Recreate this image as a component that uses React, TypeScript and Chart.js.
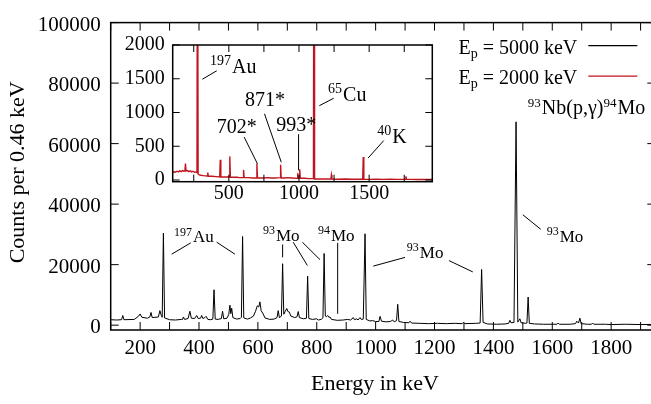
import React, { useEffect, useRef } from 'react';
import { Chart, registerables } from 'chart.js';

Chart.register(...registerables);

const FONT = '"Liberation Serif", "Times New Roman", Times, serif';

// ---- Tick values ----
const mainXTicks = [100, 200, 300, 400, 500, 600, 700, 800, 900, 1000, 1100, 1200, 1300, 1400, 1500, 1600, 1700, 1800, 1900];
const mainYTicks = [0, 20000, 40000, 60000, 80000, 100000];
const insetXTicks = [250, 500, 750, 1000, 1250, 1500, 1750];
const insetYTicks = [0, 500, 1000, 1500, 2000];

// ---- Main spectrum, Ep = 5000 keV (black) ----
const mainEnergies = [
  100, 120, 137, 141, 145, 180, 195, 200, 206, 225, 233, 237, 241, 262, 267, 272, 275, 279, 283,
  300, 320, 340, 344, 347, 351, 363, 369, 374, 385, 392, 397, 405, 409, 413, 420, 424, 430, 440, 447,
  451, 455, 465, 476, 480, 484, 495, 501, 505, 508, 511, 515, 528, 540, 544, 548, 552, 565, 575,
  585, 592, 598, 603, 607, 611, 618, 624, 640, 655, 665, 669, 673, 680, 684, 688, 692, 698, 702,
  707, 712, 725, 733, 737, 741, 755, 765, 769, 773, 785, 800, 805, 815, 821, 825, 829, 833, 837,
  841, 845, 850, 870, 890, 905, 915, 924, 928, 936, 940, 947, 951, 958, 964, 968, 980, 990, 1000,
  1011, 1015, 1020, 1035, 1050, 1058, 1063, 1071, 1075, 1079, 1095, 1113, 1117, 1122, 1150, 1180, 1210, 1240,
  1270, 1294, 1298, 1302, 1340, 1355, 1360, 1365, 1380, 1410, 1440, 1452, 1456, 1460, 1470, 1477, 1483,
  1490, 1494, 1510, 1514, 1518, 1522, 1540, 1570, 1600, 1616, 1620, 1624, 1660, 1679, 1683, 1689, 1694, 1698,
  1720, 1733, 1737, 1741, 1780, 1800, 1850, 1900, 1950,
];
const mainCounts = [
  1800, 1700, 1800, 3200, 1800, 1900, 3000, 3700, 2600, 2300, 2700, 4200, 2500, 2700, 4800, 3200, 2600, 30400, 2400,
  1800, 1700, 1900, 1900, 2700, 1900, 2200, 4600, 2300, 2200, 3200, 2200, 2300, 3200, 2200, 2500, 2900, 1900, 1800, 2000,
  11700, 2000, 1900, 2200, 4600, 2100, 2300, 3500, 6600, 3800, 5600, 2500, 2000, 2200, 2600, 29300, 2400, 2000, 2400,
  3000, 4600, 6400, 6000, 7700, 4800, 3700, 2400, 1900, 2000, 2500, 4800, 2500, 3000, 20300, 3600, 4400, 5500, 4500,
  4300, 3000, 2500, 2800, 4500, 2500, 2100, 2300, 16200, 2200, 1900, 2100, 1700, 1900, 2400, 23700, 3000, 2800, 3200,
  2600, 2700, 1900, 1600, 1700, 1900, 1700, 2500, 1800, 2100, 1700, 2500, 1900, 2000, 30200, 1900, 1400, 1500, 1200,
  1200, 2900, 1300, 1100, 1200, 1700, 1100, 1500, 6900, 1200, 900, 800, 1300, 700, 600, 500, 600, 500,
  600, 500, 900, 500, 600, 700, 18400, 900, 400, 300, 400, 600, 1600, 800, 900, 67200, 1000,
  2100, 800, 600, 700, 9300, 600, 400, 300, 300, 300, 700, 300, 300, 500, 1300, 700, 2300, 500,
  300, 300, 700, 300, 300, 200, 300, 200, 250,
];

// ---- Inset spectrum, Ep = 2000 keV (red) ----
const insetEnergies = [
  100, 110, 120, 130, 140, 150, 160, 170, 180, 187, 191, 195, 205, 215, 225, 235, 245, 255, 265, 273,
  277, 281, 290, 300, 320, 346, 350, 354, 380, 410, 435, 439, 443, 470, 503, 507, 511, 540, 560, 575,
  601, 605, 609, 640, 670, 696, 700, 704, 740, 780, 800, 830, 865, 869, 873, 900, 920, 950, 987, 991, 995,
  1001, 1005, 1009, 1040, 1070, 1103, 1107, 1111, 1150, 1190, 1227, 1231, 1235, 1280, 1330, 1380, 1420, 1454, 1458, 1462,
  1500, 1550, 1600, 1650, 1700, 1758, 1762, 1766, 1800, 1850, 1900, 1950,
];
const insetCounts = [
  105, 125, 115, 130, 120, 135, 125, 140, 130, 135, 245, 135, 140, 125, 135, 120, 130, 115, 120, 110,
  5000, 90, 75, 70, 65, 60, 110, 55, 55, 50, 45, 300, 45, 45, 45, 350, 40, 40, 40, 35,
  35, 150, 35, 35, 30, 30, 245, 30, 30, 35, 30, 30, 35, 225, 30, 30, 35, 30, 25, 100, 30,
  30, 160, 25, 25, 20, 20, 6000, 15, 15, 15, 15, 76, 15, 12, 15, 12, 12, 12, 340, 12,
  10, 12, 10, 12, 10, 10, 55, 10, 10, 8, 10, 8,
];

// ---- Legend ----
const legendEnergies = ['5000', '2000'];
const legendColors = ['#000000', '#c0141e'];

// ---- Axis titles ----
const xTitle = 'Energy in keV';
const yTitle = 'Counts per 0.46 keV';

// ---- Annotations (data coordinates) ----
type Seg = { t: string; sup?: boolean };
type Label = { segs: Seg[]; e: number; c: number };
const mainLabels: Label[] = [
  { segs: [{ t: '197', sup: true }, { t: 'Au' }], e: 315, c: 27330 },
  { segs: [{ t: '93', sup: true }, { t: 'Mo' }], e: 617, c: 27970 },
  { segs: [{ t: '94', sup: true }, { t: 'Mo' }], e: 804, c: 27970 },
  { segs: [{ t: '93', sup: true }, { t: 'Mo' }], e: 1106, c: 22210 },
  { segs: [{ t: '93', sup: true }, { t: 'Mo' }], e: 1581, c: 27650 },
];
const reactionLabel: Label = {
  segs: [{ t: '93', sup: true }, { t: 'Nb(p,γ)' }, { t: '94', sup: true }, { t: 'Mo' }],
  e: 1517,
  c: 69890,
};
const mainLeaders: number[][] = [
  [307, 23460, 372, 27200],
  [460, 27420, 522, 23460],
  [684, 26660, 684, 22400],
  [720, 27420, 768, 19740],
  [751, 27420, 811, 21660],
  [871, 27200, 871, 3740],
  [992, 19520, 1100, 22400],
  [1249, 21340, 1330, 17600],
  [1500, 36480, 1561, 31680],
];
const insetLabels: Label[] = [
  { segs: [{ t: '197', sup: true }, { t: 'Au' }], e: 366, c: 1585 },
  { segs: [{ t: '871*' }], e: 616, c: 1097 },
  { segs: [{ t: '702*' }], e: 414, c: 695 },
  { segs: [{ t: '993*' }], e: 838, c: 724 },
  { segs: [{ t: '65', sup: true }, { t: 'Cu' }], e: 1207, c: 1173 },
  { segs: [{ t: '40', sup: true }, { t: 'K' }], e: 1557, c: 541 },
];
const insetLeaders: number[][] = [
  [311, 1493, 414, 1618],
  [754, 981, 874, 263],
  [609, 636, 704, 240],
  [997, 679, 997, 144],
  [1145, 1101, 1247, 1211],
  [1493, 326, 1604, 584],
];

function drawSegs(ctx: CanvasRenderingContext2D, x: number, y: number, segs: Seg[], size: number, supSize: number, raise: number) {
  let cx = x;
  for (const s of segs) {
    ctx.font = `${s.sup ? supSize : size}px ${FONT}`;
    ctx.fillText(s.t, cx, s.sup ? y - raise : y);
    cx += ctx.measureText(s.t).width + (s.sup ? 1 : 0);
  }
}

function framePlugin(id: string, len: number, lw: number) {
  return {
    id,
    afterDatasetsDraw(chart: any) {
      const { ctx, chartArea: a, scales } = chart;
      const x = scales.x;
      const y = scales.y;
      ctx.save();
      ctx.strokeStyle = '#000';
      ctx.lineWidth = 1;
      ctx.beginPath();
      for (const t of x.ticks) {
        const px = x.getPixelForValue(t.value);
        ctx.moveTo(px, a.bottom);
        ctx.lineTo(px, a.bottom - len);
        ctx.moveTo(px, a.top);
        ctx.lineTo(px, a.top + len);
      }
      for (const t of y.ticks) {
        const py = y.getPixelForValue(t.value);
        ctx.moveTo(a.left, py);
        ctx.lineTo(a.left + len, py);
        ctx.moveTo(a.right, py);
        ctx.lineTo(a.right - len, py);
      }
      ctx.stroke();
      ctx.lineWidth = lw;
      ctx.strokeRect(a.left, a.top, a.right - a.left, a.bottom - a.top);
      ctx.restore();
    },
  };
}

function annotationPlugin(id: string, labels: Label[], leaders: number[][], size: number, supSize: number, raise: number, extra?: (chart: any) => void) {
  return {
    id,
    afterDraw(chart: any) {
      const { ctx, scales } = chart;
      const x = scales.x;
      const y = scales.y;
      ctx.save();
      ctx.strokeStyle = '#000';
      ctx.lineWidth = 1;
      ctx.beginPath();
      for (const l of leaders) {
        ctx.moveTo(x.getPixelForValue(l[0]), y.getPixelForValue(l[1]));
        ctx.lineTo(x.getPixelForValue(l[2]), y.getPixelForValue(l[3]));
      }
      ctx.stroke();
      ctx.fillStyle = '#000';
      ctx.textBaseline = 'alphabetic';
      ctx.textAlign = 'left';
      for (const lb of labels) {
        drawSegs(ctx, x.getPixelForValue(lb.e), y.getPixelForValue(lb.c), lb.segs, size, supSize, raise);
      }
      if (extra) extra(chart);
      ctx.restore();
    },
  };
}

function drawMainExtras(chart: any) {
  const { ctx, chartArea: a, scales } = chart;
  const x = scales.x;
  const y = scales.y;
  ctx.textAlign = 'left';
  ctx.textBaseline = 'alphabetic';
  drawSegs(ctx, x.getPixelForValue(reactionLabel.e), y.getPixelForValue(reactionLabel.c), reactionLabel.segs, 20, 13, 7);
  legendEnergies.forEach((en, i) => {
    const base = a.top + 31 + i * 30.5;
    const lineY = a.top + 23 + i * 30.5;
    const rightText = a.right - 78;
    ctx.font = `20px ${FONT}`;
    const wE = ctx.measureText('E').width;
    const rest = ` = ${en} keV`;
    const wRest = ctx.measureText(rest).width;
    ctx.font = `14px ${FONT}`;
    const wP = ctx.measureText('p').width;
    let cx = rightText - wE - wP - wRest;
    ctx.fillStyle = '#000';
    ctx.font = `20px ${FONT}`;
    ctx.fillText('E', cx, base);
    cx += wE;
    ctx.font = `14px ${FONT}`;
    ctx.fillText('p', cx, base + 4);
    cx += wP;
    ctx.font = `20px ${FONT}`;
    ctx.fillText(rest, cx, base);
    ctx.strokeStyle = legendColors[i];
    ctx.lineWidth = 1.3;
    ctx.beginPath();
    ctx.moveTo(a.right - 67, lineY);
    ctx.lineTo(a.right - 18, lineY);
    ctx.stroke();
  });
  // axis titles
  ctx.fillStyle = '#000';
  ctx.font = `22px ${FONT}`;
  ctx.textAlign = 'center';
  ctx.textBaseline = 'middle';
  ctx.fillText(xTitle, (a.left + a.right) / 2 - 8, 384);
  ctx.save();
  ctx.translate(18, (a.top + a.bottom) / 2 - 4);
  ctx.rotate(-Math.PI / 2);
  ctx.fillText(yTitle, 0, 0);
  ctx.restore();
}

const whiteArea = {
  id: 'whiteArea',
  beforeDraw(chart: any) {
    const { ctx, chartArea: a } = chart;
    ctx.save();
    ctx.fillStyle = '#fff';
    ctx.fillRect(a.left, a.top, a.right - a.left, a.bottom - a.top);
    ctx.restore();
  },
};

const setTicks = (arr: number[]) => (s: any) => {
  s.ticks = arr.map((v) => ({ value: v }));
};

export default function App() {
  const mainRef = useRef<HTMLCanvasElement>(null);
  const insetRef = useRef<HTMLCanvasElement>(null);

  useEffect(() => {
    const tickFont = { family: FONT, size: 21 };
    const main = new Chart(mainRef.current!, {
      type: 'line',
      data: {
        datasets: [
          {
            label: 'Ep = 5000 keV',
            data: mainEnergies.map((e, i) => ({ x: e, y: mainCounts[i] })),
            borderColor: legendColors[0],
            borderWidth: 1,
            pointRadius: 0,
            tension: 0,
            fill: false,
          },
        ],
      },
      options: {
        animation: false,
        responsive: false,
        devicePixelRatio: 1,
        layout: { padding: { left: 0, top: 12.7, right: 4.7, bottom: 0 } },
        plugins: { legend: { display: false }, tooltip: { enabled: false } },
        scales: {
          x: {
            type: 'linear',
            min: 100,
            max: 1950,
            grid: { display: false, drawTicks: false },
            border: { display: false },
            afterBuildTicks: setTicks(mainXTicks),
            ticks: {
              autoSkip: false,
              maxRotation: 0,
              padding: 6,
              color: '#000',
              font: tickFont,
              callback: (v: any) => (Number(v) % 200 === 0 ? String(v) : ''),
            },
            afterFit: (s: any) => { s.height = 74; },
          },
          y: {
            type: 'linear',
            min: -1600,
            max: 100000,
            grid: { display: false, drawTicks: false },
            border: { display: false },
            afterBuildTicks: setTicks(mainYTicks),
            ticks: {
              autoSkip: false,
              padding: 10,
              labelOffset: 2.5,
              color: '#000',
              font: tickFont,
              callback: (v: any) => String(v),
            },
            afterFit: (s: any) => { s.width = 110.7; },
          },
        },
      },
      plugins: [framePlugin('frameMain', 8, 1.5), annotationPlugin('annMain', mainLabels, mainLeaders, 17, 12, 6.5, drawMainExtras)],
    });

    const inset = new Chart(insetRef.current!, {
      type: 'line',
      data: {
        datasets: [
          {
            label: 'Ep = 2000 keV',
            data: insetEnergies.map((e, i) => ({ x: e, y: insetCounts[i] })),
            borderColor: legendColors[1],
            borderWidth: 1.4,
            pointRadius: 0,
            tension: 0,
            fill: false,
          },
        ],
      },
      options: {
        animation: false,
        responsive: false,
        devicePixelRatio: 1,
        layout: { padding: { left: 0, top: 15.7, right: 12.7, bottom: 0 } },
        plugins: { legend: { display: false }, tooltip: { enabled: false } },
        scales: {
          x: {
            type: 'linear',
            min: 100,
            max: 1950,
            grid: { display: false, drawTicks: false },
            border: { display: false },
            afterBuildTicks: setTicks(insetXTicks),
            ticks: {
              autoSkip: false,
              maxRotation: 0,
              padding: 0,
              color: '#000',
              font: { family: FONT, size: 20 },
              callback: (v: any) => (Number(v) % 500 === 0 ? String(v) : ''),
            },
            afterFit: (s: any) => { s.height = 28.3; },
          },
          y: {
            type: 'linear',
            min: -25,
            max: 2000,
            grid: { display: false, drawTicks: false },
            border: { display: false },
            afterBuildTicks: setTicks(insetYTicks),
            ticks: {
              autoSkip: false,
              padding: 8,
              color: '#000',
              font: { family: FONT, size: 20 },
              callback: (v: any) => String(v),
            },
            afterFit: (s: any) => { s.width = 57.7; },
          },
        },
      },
      plugins: [whiteArea, framePlugin('frameInset', 7, 1.5), annotationPlugin('annInset', insetLabels, insetLeaders, 20, 14, 8)],
    });

    return () => {
      main.destroy();
      inset.destroy();
    };
  }, []);

  return (
    <div style={{ position: 'fixed', left: 0, top: 0, width: 651, height: 404, overflow: 'hidden', background: '#fff' }}>
      <canvas ref={mainRef} width={660} height={404} style={{ position: 'absolute', left: 0, top: 0, width: 660, height: 404 }} />
      <canvas ref={insetRef} width={330} height={185} style={{ position: 'absolute', left: 115, top: 25, width: 330, height: 185 }} />
    </div>
  );
}
